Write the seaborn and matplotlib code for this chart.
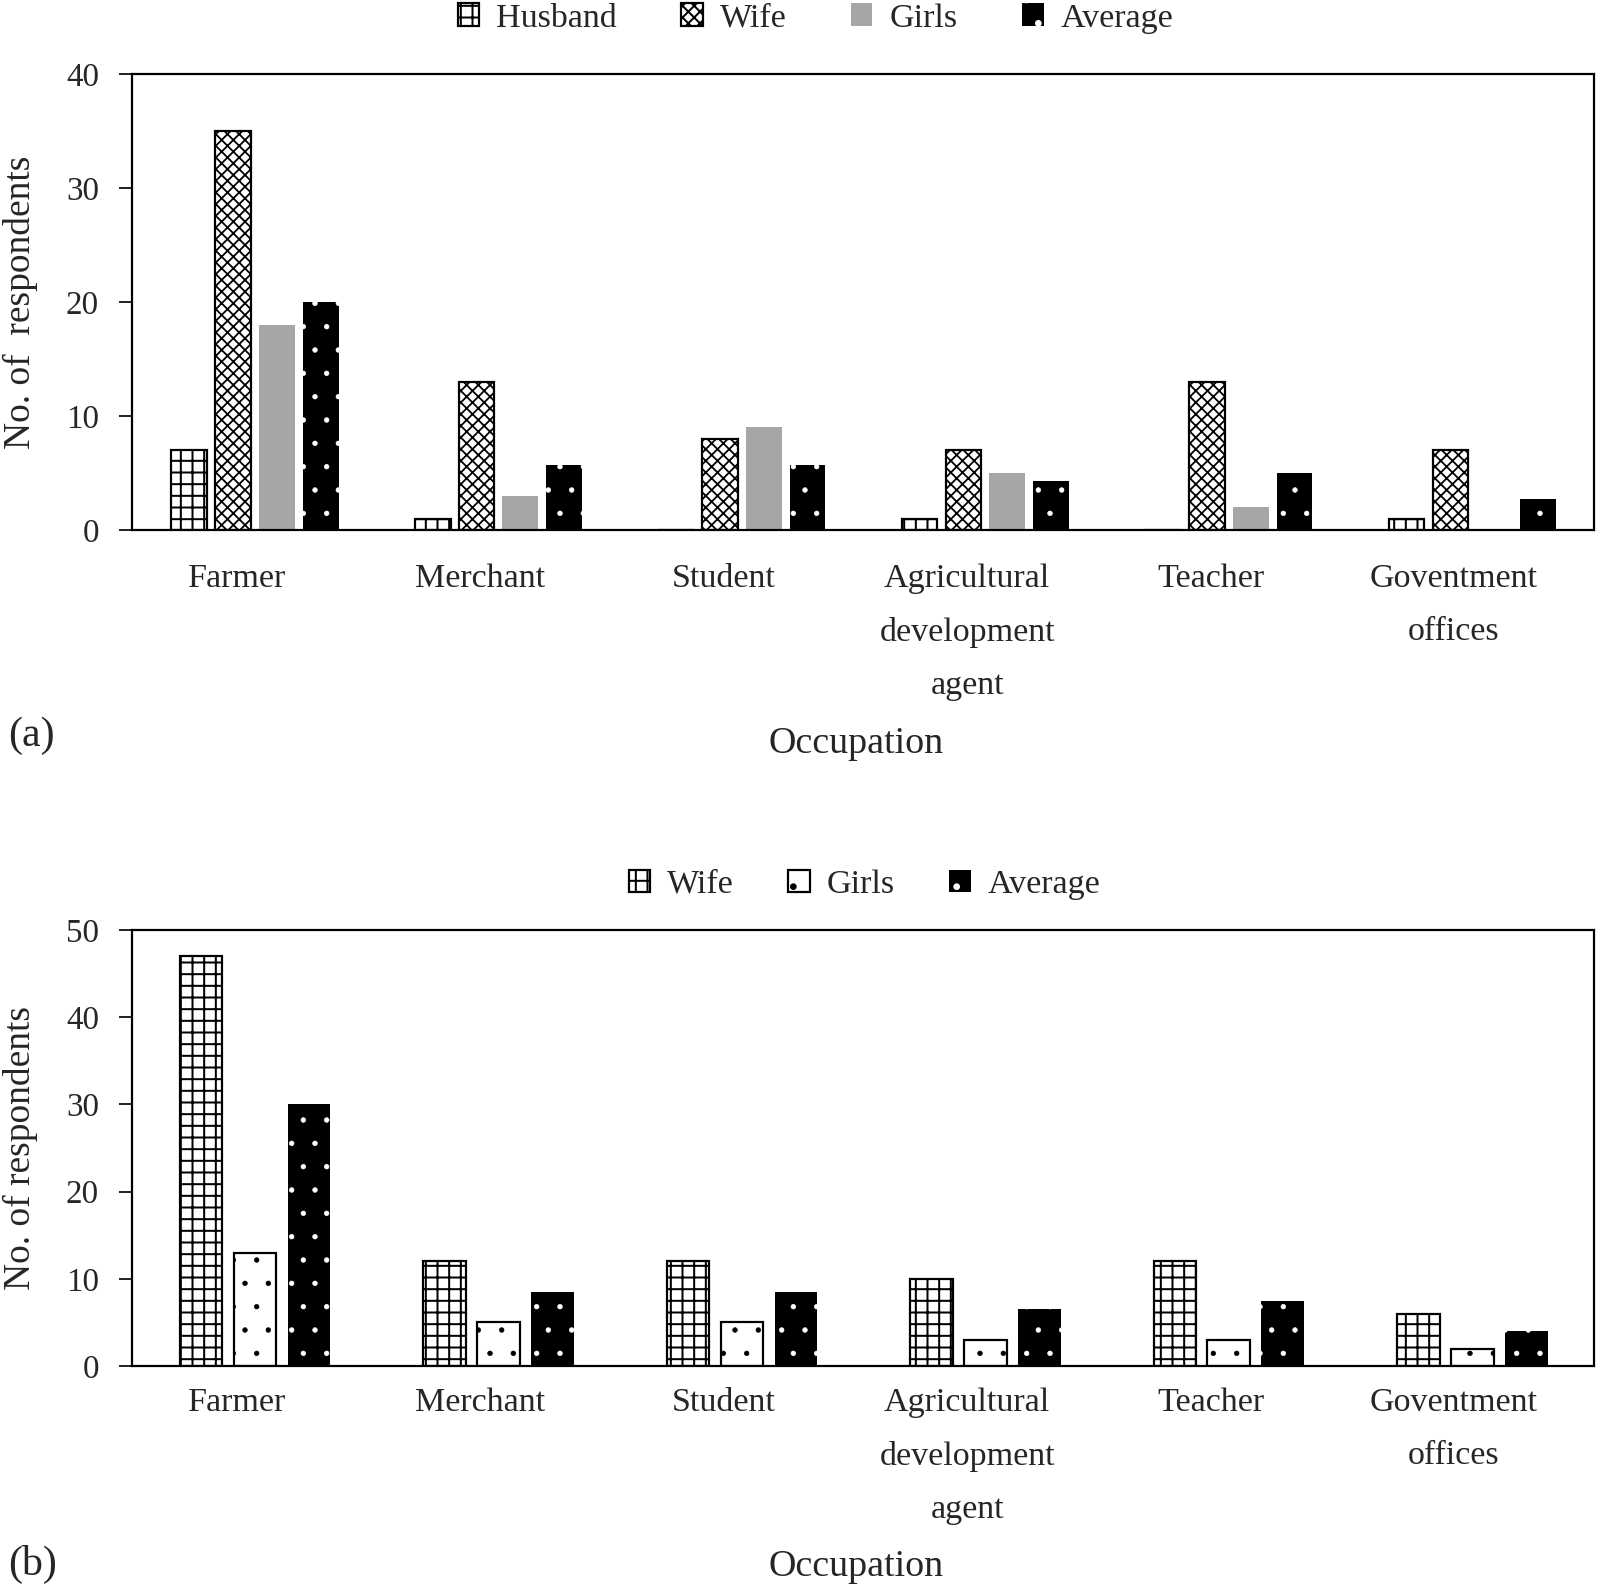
import matplotlib.pyplot as plt
import matplotlib.patches as mpatches
import pandas as pd
import seaborn as sns

# categories (typo kept from the original figure)
occupations = ['Farmer', 'Merchant', 'Student', 'Agricultural\ndevelopment\nagent',
               'Teacher', 'Goventment\noffices']

# panel (a)
husband_a = [7, 1, 0, 1, 0, 1]
wife_a = [35, 13, 8, 7, 13, 7]
girls_a = [18, 3, 9, 5, 2, 0]
average_a = [20, 5.7, 5.7, 4.3, 5, 2.7]

# panel (b)
wife_b = [47, 12, 12, 10, 12, 6]
girls_b = [13, 5, 5, 3, 3, 2]
average_b = [30, 8.5, 8.5, 6.5, 7.5, 4]

DPI = 140  # hatch spacing in Agg follows the dpi, 140 gives the finer pattern


def px(p):
    # pixel size -> points at this dpi
    return p * 72.0 / DPI


sns.set_style('ticks')
plt.rcParams['font.family'] = ['Liberation Serif', 'DejaVu Serif']
plt.rcParams['hatch.linewidth'] = px(2.0)

# facecolor, edgecolor, hatch, linewidth, hatch linewidth
STYLE = {
    'husband': ('white', 'black', '++', px(2.2), px(2.0)),
    'wife_x': ('white', 'black', 'xxxx', px(2.2), px(1.8)),
    'wife_grid': ('white', 'black', '++', px(2.2), px(2.0)),
    'girls_grey': ('#a6a6a6', '#a6a6a6', None, 0, px(1.0)),
    'girls_dot': ('white', 'black', '.', px(2.2), px(0.6)),
    'average': ('black', 'white', '.', 0, px(0.6)),
}


def make_df(series):
    rows = []
    for name, vals in series:
        for occ, v in zip(occupations, vals):
            rows.append({'Occupation': occ, 'Group': name, 'Count': v})
    return pd.DataFrame(rows)


def style_patch(p, key):
    fc, ec, hatch, lw, hlw = STYLE[key]
    p.set_facecolor(fc)
    p.set_edgecolor(ec)
    p.set_hatch(hatch)
    p.set_linewidth(lw)
    if hasattr(p, 'set_hatch_linewidth'):
        p.set_hatch_linewidth(hlw)


def draw_panel(ax, series, keys, width, gap, ymax, ylabel, xpad):
    df = make_df(series)
    sns.barplot(data=df, x='Occupation', y='Count', hue='Group', order=occupations,
                hue_order=[s[0] for s in series], width=width, gap=gap,
                legend=False, ax=ax, errorbar=None)
    for cont, key in zip(ax.containers, keys):
        for p in cont.patches:
            style_patch(p, key)
    ax.set_xlim(-0.505, 5.5)
    ax.set_ylim(0, ymax)
    ax.set_yticks(range(0, ymax + 1, 10))
    # labels sit a little left of the bar groups in the original
    ax.set_xticks([i - 0.075 for i in range(len(occupations))])
    ax.set_xticklabels(occupations, linespacing=1.95)
    ax.tick_params(axis='x', length=0, pad=px(xpad), labelsize=px(34))
    ax.tick_params(axis='y', length=px(13), width=px(2), pad=px(20), labelsize=px(33))
    for s in ax.spines.values():
        s.set_linewidth(px(2.2))
        s.set_color('black')
    ax.set_xlabel('')
    ax.set_ylabel(ylabel, fontsize=px(37.5))
    ax.yaxis.set_label_coords(-0.064, 0.5)

    handles = []
    for (name, _), key in zip(series, keys):
        fc, ec, hatch, lw, hlw = STYLE[key]
        h = mpatches.Patch(facecolor=fc, edgecolor=ec, hatch=hatch, linewidth=lw, label=name)
        if hasattr(h, 'set_hatch_linewidth'):
            h.set_hatch_linewidth(hlw)
        handles.append(h)
    return handles


fig = plt.figure(figsize=(1598 / DPI, 1591 / DPI), dpi=DPI)
ax_a = fig.add_axes([0.0826, 0.6669, 0.9149, 0.2866])
ax_b = fig.add_axes([0.0826, 0.1414, 0.9149, 0.274])

h_a = draw_panel(ax_a,
                 [('Husband', husband_a), ('Wife', wife_a), ('Girls', girls_a), ('Average', average_a)],
                 ['husband', 'wife_x', 'girls_grey', 'average'], 0.72, 0.185, 40,
                 'No. of  respondents', 34)
h_b = draw_panel(ax_b,
                 [('Wife', wife_b), ('Girls', girls_b), ('Average', average_b)],
                 ['wife_grid', 'girls_dot', 'average'], 0.665, 0.21, 50,
                 'No. of respondents', 21.5)

fig.legend(handles=h_a, loc='center', bbox_to_anchor=(0.5103, 0.9885), ncol=4, frameon=False,
           fontsize=px(34), handlelength=0.63, handleheight=0.63, handletextpad=0.5,
           columnspacing=1.9, borderpad=0)
fig.legend(handles=h_b, loc='center', bbox_to_anchor=(0.541, 0.444), ncol=3, frameon=False,
           fontsize=px(34), handlelength=0.63, handleheight=0.63, handletextpad=0.5,
           columnspacing=1.6, borderpad=0)

fig.text(856 / 1598, 1 - 744 / 1591, 'Occupation', ha='center', va='center', fontsize=px(38))
fig.text(856 / 1598, 1 - 1567 / 1591, 'Occupation', ha='center', va='center', fontsize=px(38))
fig.text(8 / 1598, 1 - 736 / 1591, '(a)', ha='left', va='center', fontsize=px(42))
fig.text(8 / 1598, 1 - 1564 / 1591, '(b)', ha='left', va='center', fontsize=px(42))

fig.savefig('out.png', dpi=DPI)
